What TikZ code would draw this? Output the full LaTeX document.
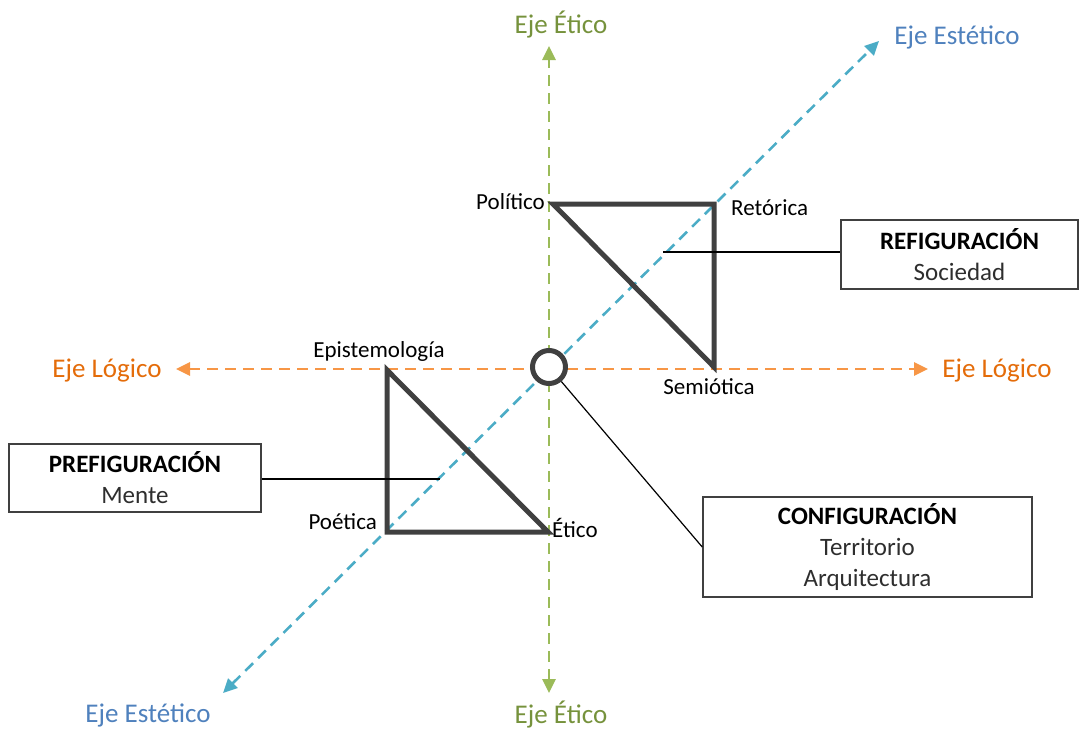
\documentclass[tikz,border=0pt]{standalone}
\usepackage{fontspec}
\setmainfont{Carlito}
\usetikzlibrary{arrows.meta}
\definecolor{etcol}{HTML}{9BBB59}
\definecolor{ettxt}{HTML}{76923C}
\definecolor{escol}{HTML}{4BACC6}
\definecolor{estxt}{HTML}{4F81BD}
\definecolor{lgcol}{HTML}{F79646}
\definecolor{lgtxt}{HTML}{E46C0A}
\definecolor{tri}{HTML}{404040}
\definecolor{subtxt}{HTML}{2E2E2E}
\tikzset{
  axis/.style={line width=2.6pt, dash pattern=on 11pt off 7pt,
    arrows={Triangle[length=14pt,width=13pt]-Triangle[length=14pt,width=13pt]}},
  axlbl/.style={font=\fontsize{27}{30}\selectfont, inner sep=0pt},
  vlbl/.style={font=\fontsize{23}{26}\selectfont, inner sep=0pt, text=black},
  tribox/.style={draw=tri, line width=5pt, line join=miter},
  infobox/.style={draw=tri, line width=1.5pt, inner sep=0pt, align=center,
    font=\fontsize{25}{31}\selectfont, text=subtxt},
  lead/.style={draw=black, line width=1.2pt},
}
\begin{document}
\begin{tikzpicture}[x=1pt,y=-1pt]
\useasboundingbox (0,0) rectangle (1080,731);

% axis end points
\coordinate (etT) at (549,46);
\coordinate (etB) at (549,693);
\coordinate (esT) at (879,41);
\coordinate (esB) at (223,693);
\coordinate (lgL) at (176,369);
\coordinate (lgR) at (928,369);

% axes
\draw[axis, etcol] (etB) -- (etT);
\draw[axis, lgcol] (lgL) -- (lgR);
\draw[axis, escol] (esB) -- (esT);

% axis labels
\node[axlbl, text=ettxt] (etTl) at (561,25) {Eje Ético};
\node[axlbl, text=ettxt] (etBl) at (561,715) {Eje Ético};
\node[axlbl, text=estxt] (esTl) at (957,37) {Eje Estético};
\node[axlbl, text=estxt] (esBl) at (148,715) {Eje Estético};
\node[axlbl, text=lgtxt] (lgLl) at (107,371) {Eje Lógico};
\node[axlbl, text=lgtxt] (lgRl) at (997,371) {Eje Lógico};

% upper triangle
\coordinate (pol) at (553,204);
\coordinate (ret) at (714,204);
\coordinate (sem) at (714,367);
\draw[tribox] (pol) -- (ret) -- (sem) -- cycle;

% lower triangle
\coordinate (epi) at (387,370);
\coordinate (poe) at (387,532);
\coordinate (eti) at (548,532);
\draw[tribox] (epi) -- (poe) -- (eti) -- cycle;

% vertex labels
\node[vlbl, anchor=east] (polL) at (545,202) {Político};
\node[vlbl, anchor=west] (retL) at (731,208) {Retórica};
\node[vlbl] (semL) at (709,387) {Semiótica};
\node[vlbl] (epiL) at (379,351) {Epistemología};
\node[vlbl, anchor=east] (poeL) at (377,522) {Poética};
\node[vlbl, anchor=west] (etiL) at (552,528) {Ético};

% centre
\node[circle, draw=tri, line width=5pt, fill=white, minimum size=33pt, inner sep=0pt] (hub) at (549,367) {};

% info boxes
\node[infobox, minimum width=237pt, minimum height=69pt] (refig) at (959.5,254.5)
  {\textcolor{black}{\textbf{REFIGURACIÓN}}\\Sociedad};
\node[infobox, minimum width=252pt, minimum height=68pt] (prefig) at (135,478)
  {\textcolor{black}{\textbf{PREFIGURACIÓN}}\\Mente};
\node[infobox, minimum width=329pt, minimum height=100pt] (config) at (867.5,547)
  {\textcolor{black}{\textbf{CONFIGURACIÓN}}\\Territorio\\Arquitectura};

% leaders
\coordinate (refigEnd) at (663,252);
\coordinate (prefigEnd) at (440,479);
\draw[lead] (refigEnd) -- (refigEnd -| refig.west);
\draw[lead] (prefig.east |- prefigEnd) -- (prefigEnd);
\draw[lead] (hub) -- (config.west);
\end{tikzpicture}
\end{document}
